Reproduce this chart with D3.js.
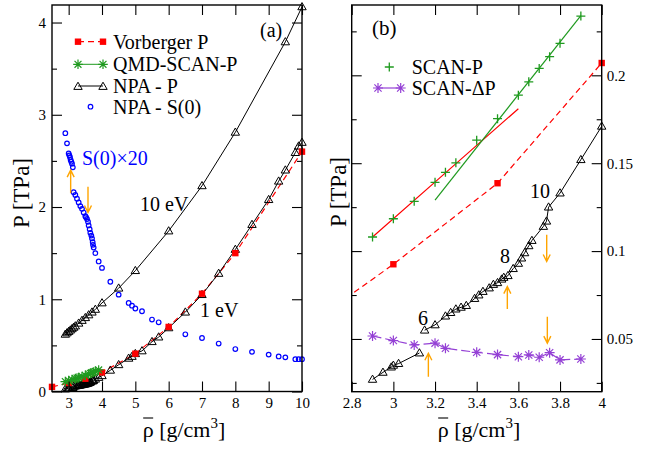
<!DOCTYPE html>
<html><head><meta charset="utf-8">
<script src="https://cdn.jsdelivr.net/npm/d3@7"></script>
<style>
body{margin:0;background:#fff;}
svg{display:block;font-family:"Liberation Serif","Times New Roman",serif;}
</style></head>
<body><svg id="chart" width="657" height="454"></svg>
<script>
// ---------------- DATA ----------------
// Panel (a)
const xTicksA = [3,4,5,6,7,8,9,10];
const yTicksA = [0,1,2,3,4];
const yMinorA = [0.5,1.5,2.5,3.5];
const vorberger = [[2.5,0.05],[3.0,0.0925],[3.5,0.1386],[4.0,0.207],[5.0,0.41],[6.0,0.70],[7.0,1.06],[8.0,1.50],[10.0,2.60]];
const scanP = [[2.9,0.108],[3.0,0.1184],[3.1,0.1283],[3.2,0.1391],[3.25,0.1448],[3.3,0.1502],[3.4,0.1631],[3.5,0.1753],[3.6,0.1887],[3.65,0.1963],[3.7,0.2039],[3.75,0.2106],[3.8,0.2182],[3.9,0.2337]];
const npa1Low = [[2.9,0.027],[2.95,0.031],[2.99,0.034],[3.0,0.035],[3.025,0.036],[3.125,0.042]];
const npa1High = [[3.15,0.055],[3.2,0.058],[3.25,0.063],[3.275,0.065],[3.3,0.067],[3.325,0.068],[3.35,0.069],[3.39,0.073],[3.41,0.075],[3.43,0.077],[3.46,0.079],[3.48,0.081],[3.5,0.082],[3.52,0.084],[3.53,0.085],[3.55,0.086],[3.575,0.09],[3.6,0.093],[3.615,0.096],[3.63,0.099],[3.65,0.103],[3.665,0.106],[3.72,0.114],[3.735,0.117],[3.745,0.125],[3.8,0.133],[3.9,0.152],[4.0,0.171]];
const npa1Ext = [[4.25,0.23],[4.5,0.29],[4.8,0.36],[4.9,0.38],[5.0,0.41],[5.2,0.44],[5.5,0.54],[5.7,0.59],[6.0,0.69],[6.5,0.86],[7.0,1.05],[7.5,1.28],[8.0,1.54],[8.5,1.81],[9.0,2.08],[9.3,2.28],[9.5,2.40],[9.8,2.59],[9.9,2.66],[10.0,2.70]];
const npa10 = [[2.9,0.62],[2.95,0.635],[3.0,0.65],[3.05,0.665],[3.1,0.68],[3.15,0.695],[3.2,0.71],[3.3,0.74],[3.4,0.77],[3.5,0.80],[3.6,0.83],[3.7,0.86],[3.8,0.89],[4.0,0.96],[4.5,1.12],[5.0,1.31],[6.0,1.74],[7.0,2.23],[8.0,2.81],[9.5,3.79],[10.0,4.17]];
const npaS0x20 = [[2.9,2.80],[2.95,2.69],[3.0,2.58],[3.02,2.56],[3.04,2.54],[3.06,2.51],[3.08,2.49],[3.1,2.47],[3.125,2.43],
  [3.15,2.16],[3.2,2.13],[3.25,2.09],[3.3,2.05],[3.35,2.01],[3.4,1.98],[3.45,1.94],[3.5,1.90],[3.52,1.89],[3.55,1.87],[3.58,1.84],[3.6,1.80],[3.63,1.76],[3.65,1.72],[3.68,1.69],[3.7,1.66],[3.72,1.62],[3.73,1.59],[3.75,1.56],[3.8,1.50],
  [3.9,1.41],[4.0,1.34],[4.25,1.19],[4.5,1.05],[4.8,0.96],[4.9,0.93],[5.0,0.90],[5.2,0.87],[5.5,0.78],[5.7,0.75],[6.0,0.70],[6.5,0.62],[7.0,0.58],[7.5,0.52],[8.0,0.46],[8.5,0.43],[9.0,0.40],[9.3,0.38],[9.5,0.37],[9.8,0.35],[9.9,0.35],[10.0,0.35]];
const arrowsA = [[3.06,2.15,2.40],[3.58,2.22,1.94]]; // rho, from P, to P
// Panel (b)
const xTicksB = [2.8,3,3.2,3.4,3.6,3.8,4];
const yTicksB = [0.05,0.1,0.15,0.2];
const yMinorB = [0.025,0.075,0.125,0.175,0.225];
const fitRed = [[2.9,0.108],[3.25,0.1445],[3.6,0.181]];
const fitGreen = [[3.2,0.129],[3.9,0.234]];
const scanDP = [[2.9,0.0517],[3.0,0.0491],[3.1,0.0466],[3.2,0.0476],[3.25,0.0447],[3.4,0.0424],[3.5,0.0411],[3.6,0.0399],[3.65,0.0409],[3.7,0.0396],[3.75,0.0422],[3.8,0.0381],[3.9,0.0386]];
const arrowsB = [[3.168,0.0285,0.0419],[3.547,0.067,0.0798],[3.736,0.1093,0.0941],[3.739,0.0627,0.0476]];

// ---------------- STYLE ----------------
const RED="#ff0000", GREEN="#1f9a1f", BLUE="#0000ff", PURPLE="#9440d5", ORANGE="#ffa500";
const svg = d3.select("#chart");
const A = {x0:52, x1:302, y0:5, y1:391.5};
const B = {x0:351.7, x1:601.7, y0:5, y1:391.7};
const xA = d3.scaleLinear().domain([2.5,10]).range([A.x0,A.x1]);
const yA = d3.scaleLinear().domain([0,4.19]).range([A.y1,A.y0]);
const xB = d3.scaleLinear().domain([2.8,4]).range([B.x0,B.x1]);
const yB = d3.scaleLinear().domain([0.02,0.24]).range([B.y1,B.y0]);

const defs = svg.append("defs");
defs.append("clipPath").attr("id","clipA").append("rect").attr("x",A.x0).attr("y",A.y0).attr("width",A.x1-A.x0).attr("height",A.y1-A.y0);
defs.append("clipPath").attr("id","clipB").append("rect").attr("x",B.x0).attr("y",B.y0).attr("width",B.x1-B.x0).attr("height",B.y1-B.y0);

// marker drawers
function tri(g,x,y){g.append("path").attr("d",`M${x},${y-4.3}L${x+4.2},${y+2.9}L${x-4.2},${y+2.9}Z`).attr("fill","none").attr("stroke","#000").attr("stroke-width",1);}
function sq(g,x,y){g.append("rect").attr("x",x-3.2).attr("y",y-3.2).attr("width",6.4).attr("height",6.4).attr("fill",RED);}
function circ(g,x,y){g.append("circle").attr("cx",x).attr("cy",y).attr("r",2.3).attr("fill","none").attr("stroke",BLUE).attr("stroke-width",1.2);}
function plus(g,x,y){g.append("path").attr("d",`M${x-4.5},${y}H${x+4.5}M${x},${y-4.5}V${y+4.5}`).attr("stroke",GREEN).attr("stroke-width",1.3);}
function star(g,x,y,c,r){const d=r*0.72;g.append("path").attr("d",`M${x-r},${y}H${x+r}M${x},${y-r}V${y+r}M${x-d},${y-d}L${x+d},${y+d}M${x-d},${y+d}L${x+d},${y-d}`).attr("stroke",c).attr("stroke-width",1.2);}

function drawLine(g,data,sx,sy,color,dash,w){
  g.append("path").datum(data).attr("d",d3.line().x(d=>sx(d[0])).y(d=>sy(d[1])))
   .attr("fill","none").attr("stroke",color).attr("stroke-width",w||1).attr("stroke-dasharray",dash||null);
}
function drawMarks(g,data,sx,sy,fn){data.forEach(d=>fn(g,sx(d[0]),sy(d[1])));}
function arrow(g,x,yFrom,yTo){
  const dir = yTo<yFrom?1:-1;
  g.append("path").attr("d",`M${x},${yFrom}V${yTo}M${x-3.5},${yTo+dir*7}L${x},${yTo}L${x+3.5},${yTo+dir*7}`)
   .attr("fill","none").attr("stroke",ORANGE).attr("stroke-width",1.4);
}

// axes helper
function styleAxis(sel){sel.select(".domain").remove();sel.selectAll("line").attr("stroke","#000").attr("stroke-width",1.1);sel.selectAll("text").attr("fill","#000").style("font-size","15px").style("font-family","Liberation Serif");}
function axes(P,sx,sy,xt,yt,ymin,labelSide,yfmt){
  const g=svg.append("g");
  g.append("g").attr("transform",`translate(0,${P.y1})`).call(d3.axisBottom(sx).tickValues(xt).tickSize(-10).tickPadding(6).tickFormat(d3.format(""))).call(styleAxis);
  g.append("g").attr("transform",`translate(0,${P.y0})`).call(d3.axisTop(sx).tickValues(xt).tickSize(-10).tickFormat("")).call(styleAxis);
  const left = d3.axisLeft(sy).tickValues(yt).tickSize(-10).tickPadding(6).tickFormat(labelSide==="left"?yfmt:"");
  const right = d3.axisRight(sy).tickValues(yt).tickSize(-10).tickPadding(5).tickFormat(labelSide==="right"?yfmt:"");
  g.append("g").attr("transform",`translate(${P.x0},0)`).call(left).call(styleAxis);
  g.append("g").attr("transform",`translate(${P.x1},0)`).call(right).call(styleAxis);
  g.append("g").attr("transform",`translate(${P.x0},0)`).call(d3.axisLeft(sy).tickValues(ymin).tickSize(-5).tickFormat("")).call(styleAxis);
  g.append("g").attr("transform",`translate(${P.x1},0)`).call(d3.axisRight(sy).tickValues(ymin).tickSize(-5).tickFormat("")).call(styleAxis);
  g.append("rect").attr("x",P.x0).attr("y",P.y0).attr("width",P.x1-P.x0).attr("height",P.y1-P.y0).attr("fill","none").attr("stroke","#000").attr("stroke-width",1.4);
}

// ---------------- PANEL A ----------------
const ga = svg.append("g");
const gaL = ga.append("g").attr("clip-path","url(#clipA)");
drawLine(gaL,vorberger,xA,yA,RED,"6,4",1.2);
drawLine(gaL,npa10,xA,yA,"#000");
drawLine(gaL,npa1Low.concat(npa1High,npa1Ext),xA,yA,"#000");
drawLine(gaL,scanP,xA,yA,GREEN);
drawMarks(ga,npaS0x20,xA,yA,circ);
drawMarks(ga,npa10,xA,yA,tri);
drawMarks(ga,npa1Low.concat(npa1High,npa1Ext),xA,yA,tri);
drawMarks(ga,vorberger,xA,yA,sq);
drawMarks(ga,scanP,xA,yA,(g,x,y)=>star(g,x,y,GREEN,4.8));
arrowsA.forEach(a=>arrow(ga,xA(a[0]),yA(a[1]),yA(a[2])));
axes(A,xA,yA,xTicksA,yTicksA,yMinorA,"left",d3.format(""));

// annotations A
const T = (x,y,s,size,color)=>svg.append("text").attr("x",x).attr("y",y).text(s).style("font-size",(size||20)+"px").attr("fill",color||"#000");
T(260,37,"(a)");
T(140,211,"10 eV");
T(200,317,"1 eV");
T(82,165,"S(0)×20",20,BLUE);

// legend A
const legA = svg.append("g");
const lx0=78, lx1=103, ltx=113;
const rowsA=[41.7,64.3,86,106.7];
legA.append("line").attr("x1",lx0).attr("x2",lx1).attr("y1",rowsA[0]).attr("y2",rowsA[0]).attr("stroke",RED).attr("stroke-width",1.2).attr("stroke-dasharray","6,4");
sq(legA,lx0,rowsA[0]); sq(legA,lx1,rowsA[0]);
legA.append("line").attr("x1",lx0).attr("x2",lx1).attr("y1",rowsA[1]).attr("y2",rowsA[1]).attr("stroke",GREEN);
star(legA,lx0,rowsA[1],GREEN,4.8); star(legA,lx1,rowsA[1],GREEN,4.8);
legA.append("line").attr("x1",lx0).attr("x2",lx1).attr("y1",rowsA[2]).attr("y2",rowsA[2]).attr("stroke","#000");
tri(legA,lx0,rowsA[2]+0.5); tri(legA,lx1,rowsA[2]+0.5);
circ(legA,(lx0+lx1)/2,rowsA[3]);
["Vorberger P","QMD-SCAN-P","NPA - P","NPA - S(0)"].forEach((s,i)=>T(ltx,rowsA[i]+7,s));

// ---------------- PANEL B ----------------
const gb = svg.append("g");
const gbL = gb.append("g").attr("clip-path","url(#clipB)");
drawLine(gbL,vorberger,xB,yB,RED,"6,4",1.2);
drawLine(gbL,fitRed,xB,yB,RED,null,1.2);
drawLine(gbL,fitGreen,xB,yB,GREEN,null,1.2);
drawLine(gbL,npa1Low,xB,yB,"#000");
drawLine(gbL,npa1High,xB,yB,"#000");
drawLine(gbL,scanDP,xB,yB,PURPLE,"9,4",1.2);
drawMarks(gb,vorberger.filter(d=>d[0]>=2.8&&d[0]<=4),xB,yB,sq);
drawMarks(gb,npa1Low.concat(npa1High),xB,yB,tri);
drawMarks(gb,scanP,xB,yB,plus);
drawMarks(gb,scanDP,xB,yB,(g,x,y)=>star(g,x,y,PURPLE,5));
arrowsB.forEach(a=>arrow(gb,xB(a[0]),yB(a[1]),yB(a[2])));
axes(B,xB,yB,xTicksB,yTicksB,yMinorB,"right",d3.format(""));

T(372,35,"(b)",21);
T(530,198,"10");
T(500,263,"8");
T(418,325,"6");
// legend B
plus(svg,389.3,67);
svg.append("line").attr("x1",378).attr("x2",400.7).attr("y1",88).attr("y2",88).attr("stroke",PURPLE).attr("stroke-width",1.2);
star(svg,378,88,PURPLE,5); star(svg,400.7,88,PURPLE,5);
T(411.7,74,"SCAN-P");
T(411.7,95,"SCAN-ΔP");

// ---------------- AXIS TITLES ----------------
function xTitle(cx){
  const t = svg.append("text").attr("x",cx).attr("y",437).attr("text-anchor","middle").style("font-size","22px");
  t.append("tspan").text("ρ");
  t.append("tspan").text(" [g/cm");
  t.append("tspan").attr("dy",-9).style("font-size","15px").text("3");
  t.append("tspan").attr("dy",9).text("]");
  const n=t.node();
  const s=n.getStartPositionOfChar(0), e=n.getEndPositionOfChar(0);
  svg.append("line").attr("x1",s.x+0.5).attr("x2",e.x-0.5).attr("y1",418).attr("y2",418).attr("stroke","#000").attr("stroke-width",1.1);
}
xTitle(184); xTitle(479);
function yTitle(x,y){svg.append("text").attr("transform",`translate(${x},${y}) rotate(-90)`).attr("text-anchor","middle").style("font-size","23px").text("P [TPa]");}
yTitle(29,193); yTitle(346,192);
</script></body></html>
